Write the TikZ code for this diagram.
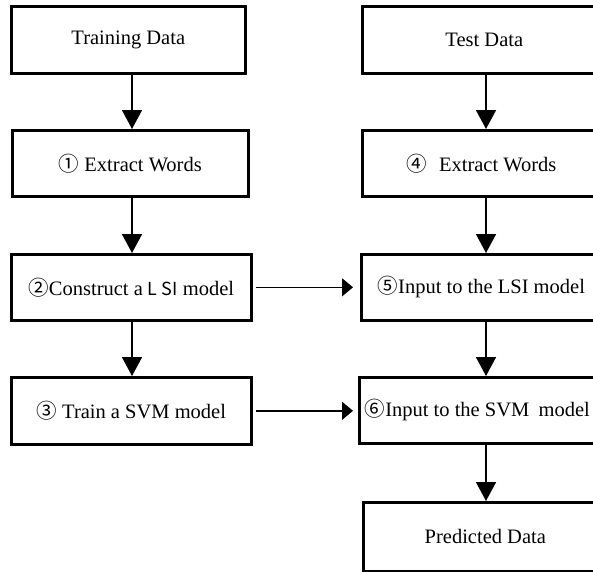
\documentclass[tikz,border=0pt]{standalone}
\usepackage{fontspec}
\setmainfont{Liberation Serif}
\newfontfamily\cjk{Noto Sans CJK SC}
\usetikzlibrary{arrows.meta}
\newcommand{\cn}[1]{{\cjk #1}}
\newcommand{\cs}[1]{{\cjk\fontsize{18}{22}\selectfont #1}}
\begin{document}
\begin{tikzpicture}[x=1pt,y=-1pt,
  box/.style={draw, line width=2.6pt, inner sep=0pt, anchor=north west, font=\fontsize{20.5}{24}\selectfont},
  varr/.style={line width=1.6pt, -{Triangle[length=19pt,width=20pt]}},
  harr/.style={line width=1.4pt, -{Triangle[length=11pt,width=18pt]}}]
\useasboundingbox (0,0) rectangle (593,571);
\clip (0,0) rectangle (593,571);
% left column
\node[box, minimum width=234pt, minimum height=67pt] (td) at (10,5) {Training Data};
\node[box, minimum width=236pt, minimum height=66pt] (ew1) at (11,129) {\cn{①} Extract Words};
\node[box, minimum width=240pt, minimum height=66pt] (lsi) at (10,253) {\cn{②}Construct a \cs{L SI} model};
\node[box, minimum width=240pt, minimum height=67pt] (svm) at (10,376) {\cn{③} Train a SVM model};
% right column
\node[box, minimum width=244pt, minimum height=67pt] (test) at (361,5) {Test Data};
\node[box, minimum width=238pt, minimum height=66pt] (ew4) at (361,129) {\cn{④}\hspace{0.6em}Extract Words};
\node[box, minimum width=240pt, minimum height=66pt] (in5) at (360,253) {\cn{⑤}Input to the LSI model};
\node[box, minimum width=236pt, minimum height=66pt] (in6) at (358,376) {\cn{⑥}Input to the SVM\hspace{0.45em}model};
\node[box, minimum width=244pt, minimum height=69pt] (pred) at (362,501) {Predicted Data};
% arrow axes
\coordinate (ax) at (132,0);
\coordinate (bx) at (486,0);
% vertical arrows
\draw[varr] (td.south -| ax) -- (ew1.north -| ax);
\draw[varr] (ew1.south -| ax) -- (lsi.north -| ax);
\draw[varr] (lsi.south -| ax) -- (svm.north -| ax);
\draw[varr] (test.south -| bx) -- (ew4.north -| bx);
\draw[varr] (ew4.south -| bx) -- (in5.north -| bx);
\draw[varr] (in5.south -| bx) -- (in6.north -| bx);
\draw[varr] (in6.south -| bx) -- (pred.north -| bx);
% horizontal arrows
\draw[harr] ([xshift=3pt]lsi.east) -- ([xshift=-7pt]in5.west |- lsi.east);
\draw[harr] ([xshift=3pt]svm.east) -- ([xshift=-5pt]in6.west |- svm.east);
\end{tikzpicture}
\end{document}
